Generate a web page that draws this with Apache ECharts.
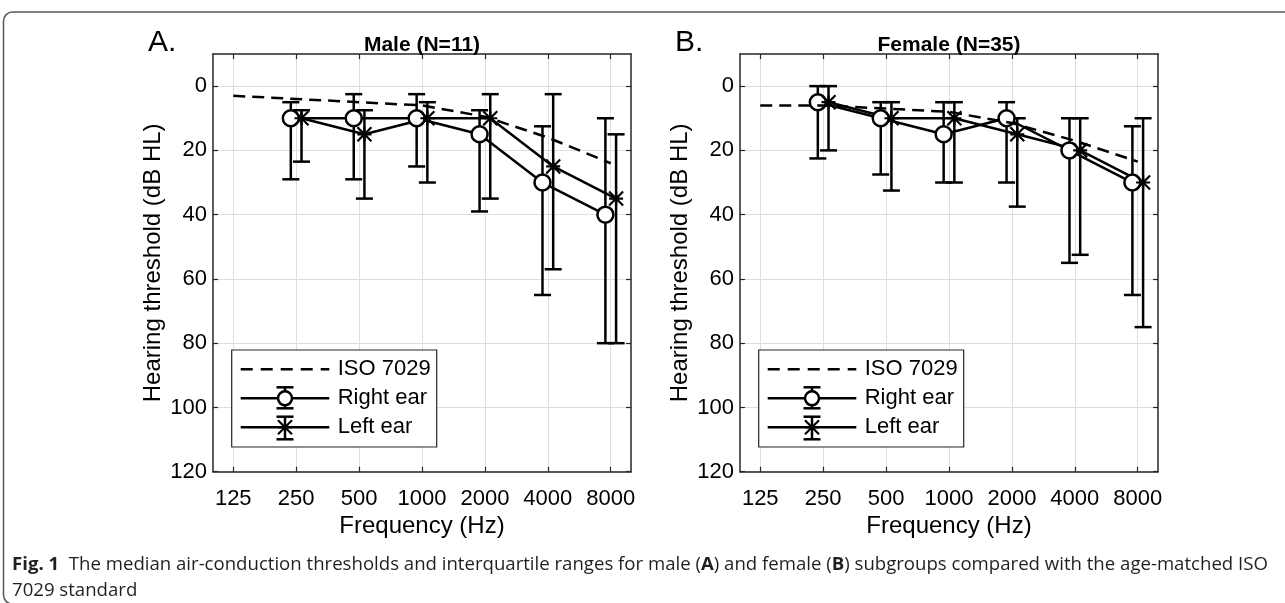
<!DOCTYPE html>
<html><head><meta charset="utf-8">
<script src="https://cdn.jsdelivr.net/npm/echarts@6/dist/echarts.min.js"></script>
<style>html,body{margin:0;padding:0;background:#fff;}#chart{width:1285px;height:603px;}</style>
</head><body><div id="chart"></div>
<script>
// ---------- data ----------
const freqs = [250, 500, 1000, 2000, 4000, 8000];
const isoFreqs = [125, 250, 500, 1000, 2000, 4000, 8000];
const xTickValues = [125, 250, 500, 1000, 2000, 4000, 8000];
const xTickLabels = ['125', '250', '500', '1000', '2000', '4000', '8000'];
const yTickValues = [0, 20, 40, 60, 80, 100, 120];
const panelTitles = ['Male (N=11)', 'Female (N=35)'];
const panelLetters = ['A.', 'B.'];
const legendLabels = ['ISO 7029', 'Right ear', 'Left ear'];
const xAxisTitle = 'Frequency (Hz)';
const yAxisTitle = 'Hearing threshold (dB HL)';

const maleIso = [3, 4, 5, 6, 9.5, 16, 24];
const maleRightMedian = [10, 10, 10, 15, 30, 40];
const maleRightQ1 = [5, 2.5, 2.5, 7.5, 12.5, 10];
const maleRightQ3 = [29, 29, 25, 39, 65, 80];
const maleLeftMedian = [10, 15, 10, 10, 25, 35];
const maleLeftQ1 = [7.5, 7.5, 5, 2.5, 2.5, 15];
const maleLeftQ3 = [23.5, 35, 30, 35, 57, 80];

const femaleIso = [6, 6, 7, 8, 11.5, 17, 23.5];
const femaleRightMedian = [5, 10, 15, 10, 20, 30];
const femaleRightQ1 = [0, 5, 5, 5, 10, 12.5];
const femaleRightQ3 = [22.5, 27.5, 30, 30, 55, 65];
const femaleLeftMedian = [5, 10, 10, 15, 20, 30];
const femaleLeftQ1 = [0, 5, 5, 10, 10, 10];
const femaleLeftQ3 = [20, 32.5, 30, 37.5, 52.5, 75];

const captionText = '{b|Fig. 1}  The median air-conduction thresholds and interquartile ranges for male ({b|A}) and female ({b|B}) subgroups compared with the age-matched ISO\n7029 standard';

// ---------- style ----------
const FONT = 'Liberation Sans, Arial, Helvetica, sans-serif';
const CAPFONT = 'Open Sans, Noto Sans, sans-serif';
const AX = '#262626';
const GRIDC = '#dedede';
const LW = 2.5;
const EAR_SHIFT_OCT = 0.085; // horizontal dodge of the two ears (octaves)
const GRID_TOP = 54, GRID_H = 417.7, GRID_W = 418;
const GRID_LEFTS = [213, 740];

const panels = [
  {iso: maleIso, r: [maleRightMedian, maleRightQ1, maleRightQ3], l: [maleLeftMedian, maleLeftQ1, maleLeftQ3]},
  {iso: femaleIso, r: [femaleRightMedian, femaleRightQ1, femaleRightQ3], l: [femaleLeftMedian, femaleLeftQ1, femaleLeftQ3]}
];

function shift(f, s) { return f * Math.pow(2, s * EAR_SHIFT_OCT); }

function errRender(params, api) {
  const x = api.value(0);
  const p1 = api.coord([x, api.value(1)]);
  const p2 = api.coord([x, api.value(2)]);
  const w = 8.5;
  const st = {stroke: '#000', lineWidth: LW, fill: null};
  return {type: 'group', children: [
    {type: 'line', shape: {x1: p1[0], y1: p1[1], x2: p2[0], y2: p2[1]}, style: st},
    {type: 'line', shape: {x1: p1[0] - w, y1: p1[1], x2: p1[0] + w, y2: p1[1]}, style: st},
    {type: 'line', shape: {x1: p2[0] - w, y1: p2[1], x2: p2[0] + w, y2: p2[1]}, style: st}
  ]};
}

const ASTER = 'path://M0 0L20 20M20 0L0 20M10 0L10 20M0 10L20 10';

const xAxes = [], yAxes = [], grids = [], series = [];
panels.forEach((pn, p) => {
  grids.push({left: GRID_LEFTS[p], top: GRID_TOP, width: GRID_W, height: GRID_H, outerBoundsMode: 'none', containLabel: false});
  [false, true].forEach(top => {
    xAxes.push({
      type: 'log', logBase: 10, gridIndex: p, min: 100, max: 10000, position: top ? 'top' : 'bottom',
      axisLine: {show: true, onZero: false, lineStyle: {color: AX, width: 1.5}},
      axisTick: {show: true, inside: true, length: 5, customValues: xTickValues, lineStyle: {color: AX, width: 1.2}},
      axisLabel: {show: !top, customValues: xTickValues, margin: 16, fontSize: 22, color: '#000', fontFamily: FONT,
        formatter: v => { const i = xTickValues.indexOf(Math.round(v)); return i >= 0 ? xTickLabels[i] : ''; }},
      splitLine: {show: !top, lineStyle: {color: GRIDC, width: 1}},
      minorTick: {show: false}, minorSplitLine: {show: false},
      name: top ? '' : xAxisTitle, nameLocation: 'middle', nameGap: 38,
      nameTextStyle: {fontSize: 24, color: '#000', fontFamily: FONT}
    });
  });
  [false, true].forEach(right => {
    yAxes.push({
      type: 'value', gridIndex: p, min: -10, max: 120, inverse: true, position: right ? 'right' : 'left',
      axisLine: {show: true, onZero: false, lineStyle: {color: AX, width: 1.5}},
      axisTick: {show: true, inside: true, length: 5, customValues: yTickValues, lineStyle: {color: AX, width: 1.2}},
      axisLabel: {show: !right, customValues: yTickValues, margin: 6, fontSize: 22, color: '#000', fontFamily: FONT},
      splitLine: {show: !right, lineStyle: {color: GRIDC, width: 1}},
      name: right ? '' : yAxisTitle, nameLocation: 'middle', nameGap: 48, nameRotate: 90,
      nameTextStyle: {fontSize: 24, color: '#000', fontFamily: FONT}
    });
  });
  const xi = 2 * p, yi = 2 * p;
  series.push({
    type: 'line', name: legendLabels[0], xAxisIndex: xi, yAxisIndex: yi, silent: true, symbol: 'none',
    data: isoFreqs.map((f, i) => [f, pn.iso[i]]),
    lineStyle: {color: '#000', width: LW, type: [12, 7]}, z: 3
  });
  [['r', -1, 'circle'], ['l', 1, ASTER]].forEach(([k, s, sym], j) => {
    const [med, q1, q3] = pn[k];
    series.push({
      type: 'custom', name: legendLabels[j + 1] + ' IQR', xAxisIndex: xi, yAxisIndex: yi, silent: true,
      renderItem: errRender, encode: {x: 0, y: [1, 2]},
      data: freqs.map((f, i) => [shift(f, s), q1[i], q3[i]]), z: 2
    });
    series.push({
      type: 'line', name: legendLabels[j + 1], xAxisIndex: xi, yAxisIndex: yi, silent: true,
      data: freqs.map((f, i) => [shift(f, s), med[i]]),
      symbol: sym, symbolSize: k === 'r' ? 16 : 14, showAllSymbol: true,
      lineStyle: {color: '#000', width: LW},
      itemStyle: k === 'r' ? {color: '#fff', borderColor: '#000', borderWidth: LW} : {color: '#000', borderColor: '#000', borderWidth: 2.2},
      z: 2
    });
  });
});

// ---------- legend boxes, titles, caption ----------
const graphics = [];
function legendBox(bx, by) {
  const bw = 205, bh = 97, z = 50;
  const lx1 = bx + 9, lx2 = bx + 97.6, cx = bx + 53.3, tx = bx + 106;
  const r0 = by + 19.3, r1 = by + 48.3, r2 = by + 77.3;
  const st = {stroke: '#000', lineWidth: LW, fill: null};
  const cap = 8.5;
  const els = [
    {type: 'rect', shape: {x: bx, y: by, width: bw, height: bh}, style: {fill: '#fff', stroke: AX, lineWidth: 1.2}},
    {type: 'line', shape: {x1: lx1, y1: r0, x2: lx2, y2: r0}, style: Object.assign({lineDash: [12, 8]}, st)},
    {type: 'line', shape: {x1: lx1, y1: r1, x2: lx2, y2: r1}, style: st},
    {type: 'line', shape: {x1: cx, y1: r1 - 11, x2: cx, y2: r1 + 10}, style: st},
    {type: 'line', shape: {x1: cx - cap, y1: r1 - 11, x2: cx + cap, y2: r1 - 11}, style: st},
    {type: 'line', shape: {x1: cx - cap, y1: r1 + 10, x2: cx + cap, y2: r1 + 10}, style: st},
    {type: 'circle', shape: {cx: cx, cy: r1, r: 7}, style: {fill: '#fff', stroke: '#000', lineWidth: LW}},
    {type: 'line', shape: {x1: lx1, y1: r2, x2: lx2, y2: r2}, style: st},
    {type: 'line', shape: {x1: cx, y1: r2 - 10.6, x2: cx, y2: r2 + 12}, style: st},
    {type: 'line', shape: {x1: cx - cap, y1: r2 - 10.6, x2: cx + cap, y2: r2 - 10.6}, style: st},
    {type: 'line', shape: {x1: cx - cap, y1: r2 + 12, x2: cx + cap, y2: r2 + 12}, style: st},
    {type: 'line', shape: {x1: cx - 7, y1: r2 - 7, x2: cx + 7, y2: r2 + 7}, style: {stroke: '#000', lineWidth: 2.2}},
    {type: 'line', shape: {x1: cx - 7, y1: r2 + 7, x2: cx + 7, y2: r2 - 7}, style: {stroke: '#000', lineWidth: 2.2}},
    {type: 'line', shape: {x1: cx - 7, y1: r2, x2: cx + 7, y2: r2}, style: {stroke: '#000', lineWidth: 2.2}}
  ];
  [r0, r1, r2].forEach((ry, i) => els.push({type: 'text', x: tx, y: ry,
    style: {text: legendLabels[i], fontSize: 22, fontFamily: FONT, fill: '#000', align: 'left', verticalAlign: 'middle'}}));
  els.forEach(e => { e.z = z; graphics.push(e); });
}
GRID_LEFTS.forEach((gl, p) => {
  legendBox(gl + 18.7, GRID_TOP + 296);
  graphics.push({type: 'text', x: gl + GRID_W / 2, y: 45, z: 50,
    style: {text: panelTitles[p], fontSize: 21, fontWeight: 'bold', fontFamily: FONT, fill: '#000', align: 'center', verticalAlign: 'middle'}});
  graphics.push({type: 'text', x: gl - 65, y: 43, z: 50,
    style: {text: panelLetters[p], fontSize: 30, fontFamily: FONT, fill: '#000', align: 'left', verticalAlign: 'middle'}});
});
graphics.push({type: 'rect', z: 1, shape: {x: 3.5, y: 12, width: 1320, height: 592, r: 9},
  style: {fill: 'none', stroke: '#58595b', lineWidth: 1.5}});
graphics.push({type: 'text', x: 12, y: 552, z: 50,
  style: {text: captionText, fontSize: 18.6, lineHeight: 26, fontFamily: CAPFONT, fill: '#231f20',
    align: 'left', verticalAlign: 'top',
    rich: {b: {fontWeight: 'bold', fontSize: 18.6, lineHeight: 26, fontFamily: CAPFONT, fill: '#231f20'}}}});

const chart = echarts.init(document.getElementById('chart'));
chart.setOption({
  animation: false,
  backgroundColor: '#fff',
  grid: grids,
  xAxis: xAxes,
  yAxis: yAxes,
  series: series,
  graphic: {elements: graphics}
});
</script></body></html>
